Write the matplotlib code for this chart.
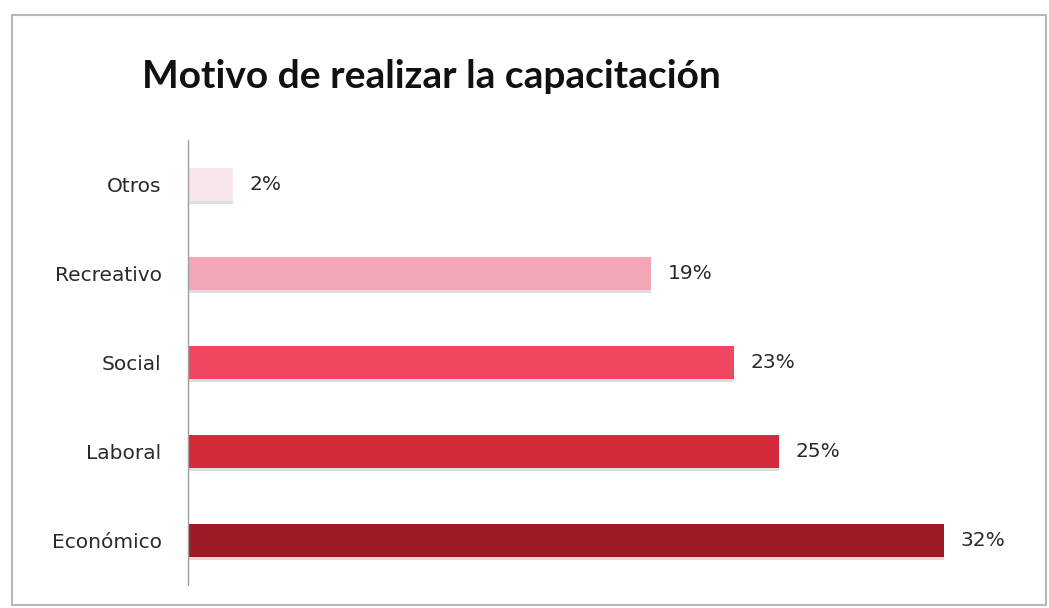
import numpy as np
import matplotlib
matplotlib.use("Agg")
from matplotlib import pyplot as plt
from matplotlib import patheffects as pe
from matplotlib.patches import Rectangle

categorias = ['Económico', 'Laboral', 'Social', 'Recreativo', 'Otros']
valores = [32.0, 25.0, 23.1, 19.6, 1.9]
etiquetas = ['32%', '25%', '23%', '19%', '2%']
colores = ['#9b1b25', '#d22a3b', '#f04760', '#f2a6b6', '#f6e6eb']

plt.rcParams['font.family'] = ['DejaVu Sans']

W, H = 1049, 608
fig = plt.figure(figsize=(W / 100, H / 100), dpi=100)
fig.patches.append(Rectangle((12 / W, 3 / H), (1046 - 12) / W, (593 - 3) / H,
                             transform=fig.transFigure, fill=False,
                             edgecolor='#b8b8b8', linewidth=1.5))

x0, x1, ytop, ybot = 188, 1000, 140, 585
ax = fig.add_axes([x0 / W, (H - ybot) / H, (x1 - x0) / W, (ybot - ytop) / H])

y = np.arange(len(categorias))
bars = ax.barh(y, valores, height=0.38, color=colores, edgecolor='none')
for b in bars:
    b.set_path_effects([pe.SimplePatchShadow(offset=(0, -2), shadow_rgbFace='#d0d0d0', alpha=0.7),
                        pe.Normal()])

ax.set_xlim(0, (x1 - x0) / 23.62)
ax.set_ylim(-0.5, len(categorias) - 0.5)
ax.set_yticks(y)
ax.set_yticklabels(categorias, fontsize=14.5, color='#2a2a2a')
ax.tick_params(axis='y', length=0, pad=19)
ax.set_xticks([])

for v, yy, t in zip(valores, y, etiquetas):
    ax.text(v + 0.7, yy, t, va='center', ha='left', fontsize=14.5, color='#2a2a2a')

for s in ['top', 'right', 'bottom']:
    ax.spines[s].set_visible(False)
ax.spines['left'].set_color('#a0a0a0')
ax.spines['left'].set_linewidth(1)

fig.text(431 / W, 1 - 77 / H, 'Motivo de realizar la capacitación', ha='center', va='center',
         fontsize=28, fontweight='bold', color='#111111', family=['Lato', 'DejaVu Sans'])

fig.savefig('out.png', dpi=100)
